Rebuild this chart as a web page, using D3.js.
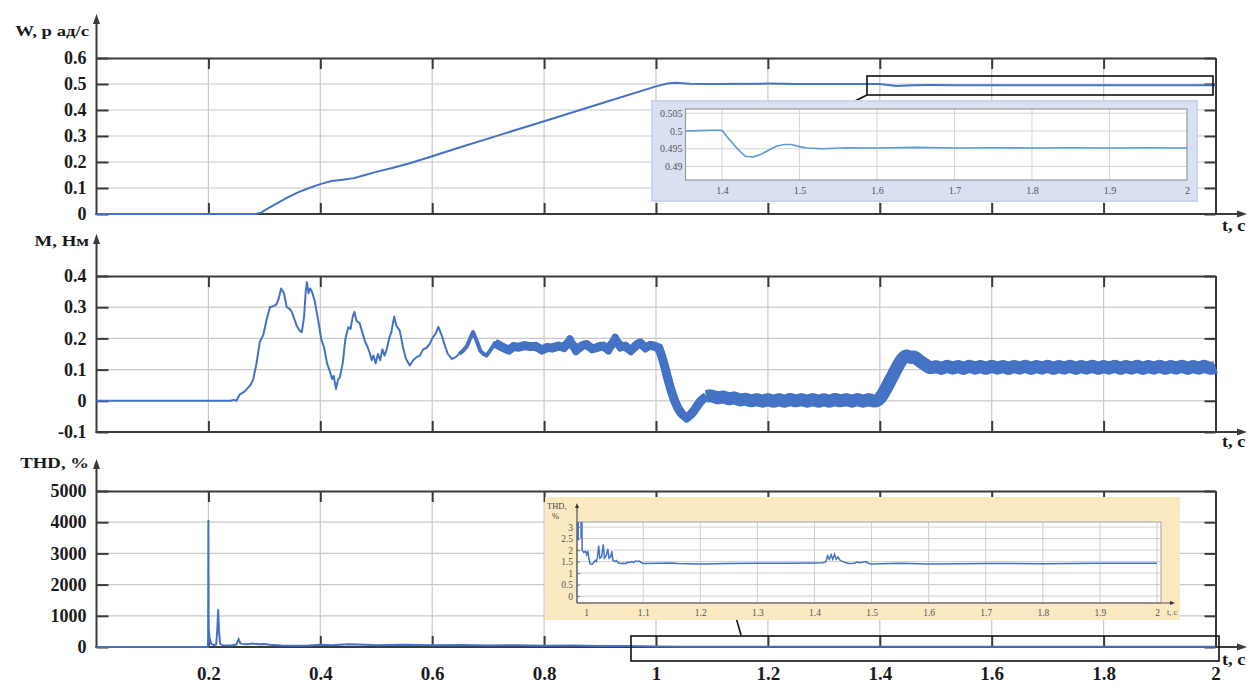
<!DOCTYPE html>
<html><head><meta charset="utf-8">
<script src="https://cdn.jsdelivr.net/npm/d3@7"></script>
<style>
html,body{margin:0;padding:0;background:#fff;}
svg{display:block;}
</style></head><body>
<svg id="c" width="1258" height="686"></svg>
<script>
// ---------------- DATA ----------------
const xTicks = [0.2,0.4,0.6,0.8,1,1.2,1.4,1.6,1.8,2];
const xTickLabels = ["0.2","0.4","0.6","0.8","1","1.2","1.4","1.6","1.8","2"];

const wTicks = [0,0.1,0.2,0.3,0.4,0.5,0.6];
const wTickLabels = ["0","0.1","0.2","0.3","0.4","0.5","0.6"];
const mTicks = [-0.1,0,0.1,0.2,0.3,0.4];
const mTickLabels = ["-0.1","0","0.1","0.2","0.3","0.4"];
const thdTicks = [0,1000,2000,3000,4000,5000];
const thdTickLabels = ["0","1000","2000","3000","4000","5000"];

// speed W, rad/s  [t, value]
const speed = [[0,0],[0.285,0],[0.295,0.006],[0.305,0.02],[0.32,0.038],[0.34,0.062],[0.36,0.083],[0.38,0.1],
 [0.40,0.115],[0.42,0.127],[0.44,0.132],[0.46,0.138],[0.48,0.15],[0.50,0.162],[0.53,0.178],[0.56,0.195],
 [0.60,0.222],[0.65,0.257],[0.70,0.29],[0.80,0.357],[0.90,0.424],[1.00,0.491],[1.02,0.502],[1.035,0.505],
 [1.06,0.501],[1.1,0.5],[1.2,0.5015],[1.25,0.5],[1.4,0.5],[1.43,0.4925],[1.46,0.4955],[1.49,0.496],[1.53,0.4952],[2,0.4952]];

// speed zoom inset
const speedZoomXTicks = [1.4,1.5,1.6,1.7,1.8,1.9,2];
const speedZoomXLabels = ["1.4","1.5","1.6","1.7","1.8","1.9","2"];
const speedZoomYTicks = [0.49,0.495,0.5,0.505];
const speedZoomYLabels = ["0.49","0.495","0.5","0.505"];
const speedZoom = [[1.353,0.5],[1.37,0.5001],[1.385,0.5002],[1.4,0.5002],[1.41,0.4975],[1.42,0.495],[1.43,0.4929],
 [1.44,0.4927],[1.45,0.4934],[1.46,0.4946],[1.47,0.4957],[1.48,0.4962],[1.49,0.4962],[1.5,0.4956],[1.51,0.4952],
 [1.53,0.495],[1.56,0.4953],[1.6,0.4952],[1.65,0.4954],[1.7,0.4952],[1.75,0.4953],[1.8,0.4952],[1.85,0.4953],
 [1.9,0.4952],[1.95,0.4953],[2.0,0.4952]];

// torque M, N*m
const torqueStart = [[0,0],[0.24,0],[0.245,0.003],[0.25,0],[0.256,0.02],[0.265,0.03],[0.275,0.05],[0.28,0.068],
 [0.286,0.12],[0.292,0.19],[0.298,0.21],[0.304,0.26],[0.31,0.3],[0.318,0.305],[0.322,0.31],[0.326,0.33],[0.33,0.36],
 [0.335,0.345],[0.34,0.3],[0.345,0.295],[0.349,0.285],[0.354,0.26],[0.358,0.24],[0.363,0.225],[0.367,0.22],
 [0.371,0.27],[0.374,0.35],[0.376,0.38],[0.379,0.345],[0.382,0.36],[0.385,0.35],[0.39,0.32],[0.396,0.26],
 [0.402,0.195],[0.407,0.17],[0.412,0.12],[0.417,0.095],[0.421,0.07],[0.424,0.08],[0.428,0.038],[0.432,0.07],
 [0.435,0.075],[0.44,0.12],[0.445,0.2],[0.45,0.236],[0.454,0.23],[0.458,0.27],[0.461,0.285],[0.465,0.255],
 [0.47,0.25],[0.475,0.22],[0.48,0.19],[0.485,0.17],[0.489,0.15],[0.492,0.13],[0.495,0.145],[0.499,0.12],
 [0.503,0.15],[0.507,0.13],[0.511,0.165],[0.515,0.145],[0.519,0.167],[0.523,0.2],[0.527,0.22],[0.532,0.27],
 [0.536,0.24],[0.542,0.225],[0.548,0.17],[0.553,0.135],[0.56,0.113],[0.566,0.13],[0.572,0.14],[0.578,0.145],
 [0.584,0.165],[0.59,0.17],[0.596,0.183],[0.6,0.2],[0.606,0.215],[0.611,0.237],[0.617,0.21],[0.622,0.18],
 [0.628,0.15],[0.635,0.134],[0.642,0.14],[0.648,0.15]];
const torqueMid = [[0.648,0.15],[0.655,0.16],[0.662,0.175],[0.668,0.2],[0.673,0.22],
 [0.68,0.19],[0.686,0.16],[0.692,0.15],[0.697,0.145],[0.705,0.165],[0.712,0.185],[0.72,0.177]];
const torqueBandA = [[0.712,0.185],[0.72,0.177],[0.728,0.17],[0.737,0.16],[0.745,0.176],
 [0.755,0.17],[0.765,0.179],[0.775,0.172],[0.785,0.177],[0.796,0.16],[0.805,0.173],[0.815,0.167],[0.826,0.178],
 [0.836,0.168],[0.846,0.198],[0.857,0.158],[0.866,0.176],[0.876,0.183],[0.886,0.164],[0.896,0.172],[0.906,0.178],
 [0.915,0.16],[0.927,0.203],[0.936,0.17],[0.945,0.178],[0.955,0.158],[0.964,0.178],[0.972,0.188],[0.981,0.167],
 [0.99,0.18],[0.998,0.174],[1.006,0.172],[1.016,0.108],[1.025,0.043],[1.034,-0.005],[1.043,-0.038],[1.055,-0.058],
 [1.067,-0.036],[1.079,0.0],[1.09,0.014]];
const torqueBandB = [[1.09,0.014],[1.10,0.018],[1.11,0.006],[1.12,0.016],[1.13,0.003],[1.14,0.013],[1.15,-0.001],
 [1.16,0.009],[1.17,-0.004],[1.18,0.007],[1.19,-0.005],[1.20,0.007],[1.21,-0.005],[1.22,0.007],[1.23,-0.005],
 [1.24,0.008],[1.25,-0.004],[1.26,0.007],[1.27,-0.005],[1.28,0.008],[1.29,-0.005],[1.30,0.007],[1.31,-0.005],
 [1.32,0.008],[1.33,-0.004],[1.34,0.007],[1.35,-0.005],[1.36,0.008],[1.37,-0.005],[1.38,0.007],[1.39,-0.004],
 [1.40,0.004],[1.41,0.035],[1.425,0.087],[1.44,0.138],[1.448,0.147],[1.455,0.136],[1.462,0.144],[1.47,0.128],
 [1.48,0.118],[1.49,0.102],[1.50,0.113],[1.51,0.1],[1.52,0.115],[1.53,0.101],[1.54,0.114],[1.55,0.1],
 [1.56,0.115],[1.57,0.101],[1.58,0.114],[1.59,0.1],[1.60,0.115],[1.61,0.101],[1.62,0.114],[1.63,0.1],
 [1.64,0.114],[1.65,0.101],[1.66,0.115],[1.67,0.1],[1.68,0.114],[1.69,0.101],[1.70,0.115],[1.71,0.1],
 [1.72,0.114],[1.73,0.101],[1.74,0.115],[1.75,0.1],[1.76,0.114],[1.77,0.101],[1.78,0.115],[1.79,0.1],
 [1.80,0.114],[1.81,0.101],[1.82,0.115],[1.83,0.1],[1.84,0.114],[1.85,0.101],[1.86,0.115],[1.87,0.1],
 [1.88,0.114],[1.89,0.101],[1.90,0.115],[1.91,0.1],[1.92,0.114],[1.93,0.101],[1.94,0.115],[1.95,0.1],
 [1.96,0.114],[1.97,0.101],[1.98,0.115],[1.99,0.101],[2.0,0.108]];

// THD, %
const thd = [[0,0],[0.199,0],[0.1995,350],[0.2,4070],[0.2005,600],[0.202,300],[0.205,100],[0.21,60],[0.214,80],
 [0.216,600],[0.2175,1210],[0.219,500],[0.221,100],[0.225,60],[0.24,50],[0.25,80],[0.254,245],[0.257,120],
 [0.26,100],[0.27,90],[0.28,110],[0.29,90],[0.30,95],[0.31,70],[0.33,45],[0.36,40],[0.38,50],[0.40,70],
 [0.42,60],[0.45,85],[0.48,75],[0.50,60],[0.55,70],[0.6,55],[0.65,65],[0.7,50],[0.75,55],[0.8,40],[0.85,45],
 [0.9,35],[0.95,30],[1.0,20],[1.05,5],[2.0,5]];

// THD zoom inset
const thdZoomXTicks = [1,1.1,1.2,1.3,1.4,1.5,1.6,1.7,1.8,1.9,2];
const thdZoomXLabels = ["1","1.1","1.2","1.3","1.4","1.5","1.6","1.7","1.8","1.9","2"];
const thdZoomYTicks = [0,0.5,1,1.5,2,2.5,3];
const thdZoomYLabels = ["0","0.5","1","1.5","2","2.5","3"];
const thdZoom = [[0.984,3.4],[0.9853,3.4],[0.9855,2.45],[0.986,2.45],[0.9862,3.4],[0.991,3.4],[0.9912,2.5],
 [0.9915,3.4],[0.9925,3.4],[0.993,2.0],[0.996,1.9],[0.999,1.95],[1.001,1.8],[1.003,1.95],[1.005,1.6],[1.007,1.4],
 [1.01,1.38],[1.013,1.45],[1.016,1.55],[1.018,1.5],[1.02,1.7],[1.022,2.2],[1.024,1.65],[1.027,1.7],[1.03,2.25],
 [1.032,1.65],[1.035,1.75],[1.038,2.05],[1.04,1.65],[1.043,1.7],[1.045,1.95],[1.047,1.55],[1.05,1.5],[1.053,1.55],
 [1.056,1.45],[1.06,1.42],[1.065,1.43],[1.07,1.42],[1.072,1.48],[1.075,1.45],[1.08,1.5],[1.083,1.46],[1.086,1.52],
 [1.09,1.5],[1.093,1.52],[1.097,1.45],[1.1,1.42],[1.15,1.44],[1.16,1.42],[1.2,1.4],[1.25,1.42],[1.3,1.43],
 [1.35,1.43],[1.4,1.44],[1.415,1.45],[1.42,1.5],[1.423,1.75],[1.426,1.6],[1.429,1.8],[1.432,1.6],[1.435,1.82],
 [1.438,1.6],[1.441,1.7],[1.445,1.55],[1.45,1.5],[1.455,1.45],[1.46,1.42],[1.47,1.43],[1.475,1.48],[1.48,1.45],
 [1.49,1.5],[1.495,1.42],[1.5,1.4],[1.55,1.43],[1.6,1.4],[1.7,1.42],[1.8,1.41],[1.9,1.43],[2.0,1.43]];

// ---------------- DRAWING ----------------
const svg = d3.select("#c");
const FONT = "'Liberation Serif','Times New Roman',serif";
const BLUE = "#4472c4";
const DARK = "#3a3a3a";
const GRID = "#c9c9c9";
const X0 = 96.5, X1 = 1215.5, XARROW = 1247;
const x = d3.scaleLinear([0, 2], [X0, X1]);

function arrowUp(g, cx, tip) {
  g.append("path").attr("d", `M${cx},${tip} L${cx-3.5},${tip+10} L${cx+3.5},${tip+10} Z`).attr("fill", DARK);
}
function arrowRight(g, tip, cy) {
  g.append("path").attr("d", `M${tip},${cy} L${tip-10},${cy-3.5} L${tip-10},${cy+3.5} Z`).attr("fill", DARK);
}
function styleText(sel, size) {
  sel.selectAll("text").attr("font-family", FONT).attr("font-weight", "bold")
     .attr("font-size", size).attr("fill", "#1a1a1a");
}

function mainPanel(o) {
  const y = d3.scaleLinear(o.domain, [o.bottom, o.top]);
  const g = svg.append("g");
  g.selectAll("line.vg").data(xTicks.slice(0, -1)).join("line").attr("class", "vg")
    .attr("x1", d => x(d)).attr("x2", d => x(d)).attr("y1", o.top).attr("y2", o.bottom)
    .attr("stroke", GRID).attr("stroke-width", 1.2);
  g.selectAll("line.hg").data(o.ticks.slice(1, -1)).join("line").attr("class", "hg")
    .attr("x1", X0).attr("x2", X1).attr("y1", d => y(d)).attr("y2", d => y(d))
    .attr("stroke", GRID).attr("stroke-width", 1.2);

  const top = g.append("g").attr("transform", `translate(0,${o.top})`)
    .call(d3.axisTop(x).tickValues(xTicks).tickSize(-11).tickSizeOuter(0).tickFormat(""));
  const right = g.append("g").attr("transform", `translate(${X1},0)`)
    .call(d3.axisRight(y).tickValues(o.ticks).tickSize(-11).tickSizeOuter(0).tickFormat(""));
  const bottom = g.append("g").attr("transform", `translate(0,${o.bottom})`)
    .call(d3.axisBottom(x).tickValues(xTicks).tickSize(-11).tickSizeOuter(0).tickPadding(20)
      .tickFormat((d, i) => o.showX ? xTickLabels[i] : ""));
  bottom.select(".domain").remove();
  styleText(bottom, 19);
  const left = g.append("g").attr("transform", `translate(${X0},0)`)
    .call(d3.axisLeft(y).tickValues(o.ticks).tickSize(-12).tickSizeOuter(0).tickPadding(10)
      .tickFormat((d, i) => o.labels[i]));
  left.select(".domain").remove();
  styleText(left, 18);
  [top, right, bottom, left].forEach(a => {
    a.selectAll(".tick line").attr("stroke", DARK).attr("stroke-width", 2);
    a.select(".domain").attr("stroke", DARK).attr("stroke-width", 2);
  });
  g.append("line").attr("x1", X0).attr("x2", X0).attr("y1", o.bottom + 1).attr("y2", o.tip + 4)
    .attr("stroke", DARK).attr("stroke-width", 2);
  arrowUp(g, X0, o.tip);
  g.append("line").attr("x1", X0 - 1).attr("x2", XARROW - 4).attr("y1", o.bottom).attr("y2", o.bottom)
    .attr("stroke", DARK).attr("stroke-width", 2);
  arrowRight(g, XARROW, o.bottom);
  g.append("text").attr("transform", `translate(89,${o.titleY}) scale(1.25,1)`)
    .attr("text-anchor", "end").attr("font-family", FONT).attr("font-weight", "bold")
    .attr("font-size", 15).attr("fill", "#1a1a1a").text(o.title);
  g.append("text").attr("transform", `translate(1222,${o.tY}) scale(1.15,1)`)
    .attr("font-family", FONT).attr("font-weight", "bold").attr("font-size", 16)
    .attr("fill", "#1a1a1a").text("t, с");
  return { g, y };
}

const line = (xs, ys) => d3.line().x(d => xs(d[0])).y(d => ys(d[1]));

// ---- Panel 1: speed
const p1 = mainPanel({ top: 58, bottom: 214, domain: [0, 0.6], ticks: wTicks, labels: wTickLabels,
  tip: 14, title: "W, р ад/с", titleY: 36, tY: 231, showX: false });
p1.g.append("path").datum(speed).attr("d", line(x, p1.y)).attr("fill", "none")
  .attr("stroke", BLUE).attr("stroke-width", 2);

// ---- Panel 2: torque
const p2 = mainPanel({ top: 276, bottom: 432, domain: [-0.1, 0.4], ticks: mTicks, labels: mTickLabels,
  tip: 234, title: "M, Нм", titleY: 246, tY: 447, showX: false });
function torquePath(data, w, curve) {
  const gen = line(x, p2.y).curve(curve || d3.curveLinear);
  p2.g.append("path").datum(data).attr("d", gen).attr("fill", "none")
    .attr("stroke", BLUE).attr("stroke-width", w).attr("stroke-linejoin", "round").attr("stroke-linecap", "butt");
}
torquePath(torqueStart, 2);
torquePath(torqueMid, 4);
torquePath(torqueBandA, 9, d3.curveBasis);
torquePath(torqueBandA, 7.5);
torquePath(torqueBandB, 13, d3.curveBasis);
torquePath(torqueBandB, 10);

// ---- Panel 3: THD
const p3 = mainPanel({ top: 491, bottom: 647, domain: [0, 5000], ticks: thdTicks, labels: thdTickLabels,
  tip: 459, title: "THD, %", titleY: 468, tY: 665, showX: true });
p3.g.append("path").datum(thd).attr("d", line(x, p3.y)).attr("fill", "none")
  .attr("stroke", BLUE).attr("stroke-width", 2);

// ---- zoom rectangles + connectors
svg.append("rect").attr("x", 867).attr("y", 76).attr("width", 346).attr("height", 19)
  .attr("fill", "none").attr("stroke", "#111").attr("stroke-width", 1.6);
svg.append("path").attr("d", "M867,95 L853,102").attr("stroke", "#111").attr("stroke-width", 1.6).attr("fill", "none");
svg.append("rect").attr("x", 631).attr("y", 636).attr("width", 588).attr("height", 25)
  .attr("fill", "none").attr("stroke", "#111").attr("stroke-width", 1.6);
svg.append("path").attr("d", "M735,614 L741,635").attr("stroke", "#111").attr("stroke-width", 1.6).attr("fill", "none");

// ---- Inset 1 (speed zoom)
(function () {
  const g = svg.append("g");
  g.append("rect").attr("x", 652).attr("y", 101).attr("width", 545).attr("height", 100)
    .attr("fill", "#d9e0f2").attr("stroke", "#cdd5ec").attr("stroke-width", 2);
  const L = 685.5, R = 1187, T = 109, B = 180;
  const xi = d3.scaleLinear([1.353, 2.0], [L, R]);
  const yi = d3.scaleLinear([0.4862, 0.5062], [B, T]);
  g.append("rect").attr("x", L).attr("y", T).attr("width", R - L).attr("height", B - T).attr("fill", "#fff");
  g.selectAll("line.v").data(speedZoomXTicks.slice(0, -1)).join("line").attr("class", "v")
    .attr("x1", d => xi(d)).attr("x2", d => xi(d)).attr("y1", T).attr("y2", B).attr("stroke", "#d6d6d6");
  g.selectAll("line.h").data(speedZoomYTicks).join("line").attr("class", "h")
    .attr("x1", L).attr("x2", R).attr("y1", d => yi(d)).attr("y2", d => yi(d)).attr("stroke", "#d6d6d6");
  g.append("rect").attr("x", L).attr("y", T).attr("width", R - L).attr("height", B - T)
    .attr("fill", "none").attr("stroke", "#9a9a9a").attr("stroke-width", 1.2);
  const ax = g.append("g").attr("transform", `translate(0,${B})`)
    .call(d3.axisBottom(xi).tickValues(speedZoomXTicks).tickSize(0).tickPadding(7).tickFormat((d, i) => speedZoomXLabels[i]));
  const ay = g.append("g").attr("transform", `translate(${L},0)`)
    .call(d3.axisLeft(yi).tickValues(speedZoomYTicks).tickSize(0).tickPadding(3).tickFormat((d, i) => speedZoomYLabels[i]));
  [ax, ay].forEach(a => {
    a.select(".domain").remove();
    a.selectAll("text").attr("font-family", FONT).attr("font-size", 10).attr("fill", "#555");
  });
  g.append("path").datum(speedZoom).attr("d", line(xi, yi)).attr("fill", "none")
    .attr("stroke", "#5b9bd5").attr("stroke-width", 1.6);
})();

// ---- Inset 2 (THD zoom)
(function () {
  const g = svg.append("g");
  g.append("rect").attr("x", 545).attr("y", 497).attr("width", 635).attr("height", 123)
    .attr("fill", "#fbe9c2");
  const L = 577, R = 1161, T = 522, B = 603;
  const xi = d3.scaleLinear([0.984, 2.007], [L, R]);
  const yi = d3.scaleLinear([-0.3, 3.22], [B, T]);
  g.append("rect").attr("x", L).attr("y", T).attr("width", R - L).attr("height", B - T).attr("fill", "#fff");
  g.selectAll("line.v").data(thdZoomXTicks.slice(1)).join("line").attr("class", "v")
    .attr("x1", d => xi(d)).attr("x2", d => xi(d)).attr("y1", T).attr("y2", B).attr("stroke", "#cfcfcf");
  g.selectAll("line.h").data(thdZoomYTicks).join("line").attr("class", "h")
    .attr("x1", L).attr("x2", R).attr("y1", d => yi(d)).attr("y2", d => yi(d)).attr("stroke", "#cfcfcf");
  g.append("rect").attr("x", L).attr("y", T).attr("width", R - L).attr("height", B - T)
    .attr("fill", "none").attr("stroke", "#a0a0a0").attr("stroke-width", 1);
  const ax = g.append("g").attr("transform", `translate(0,${B})`)
    .call(d3.axisBottom(xi).tickValues(thdZoomXTicks).tickSize(0).tickPadding(6).tickFormat((d, i) => thdZoomXLabels[i]));
  const ay = g.append("g").attr("transform", `translate(${L},0)`)
    .call(d3.axisLeft(yi).tickValues(thdZoomYTicks).tickSize(-3).tickPadding(4).tickFormat((d, i) => thdZoomYLabels[i]));
  [ax, ay].forEach(a => {
    a.select(".domain").remove();
    a.selectAll(".tick line").attr("stroke", "#777");
    a.selectAll("text").attr("font-family", FONT).attr("font-size", 9.5).attr("fill", "#555");
  });
  g.append("line").attr("x1", L).attr("x2", L).attr("y1", B).attr("y2", 506).attr("stroke", "#555").attr("stroke-width", 1.2);
  g.append("path").attr("d", `M${L},503 L${L-2},508 L${L+2},508 Z`).attr("fill", "#333");
  g.append("line").attr("x1", L).attr("x2", 1172).attr("y1", B).attr("y2", B).attr("stroke", "#555").attr("stroke-width", 1.2);
  g.append("path").attr("d", `M1175,${B} L1170,${B-2} L1170,${B+2} Z`).attr("fill", "#333");
  g.append("text").attr("x", 547).attr("y", 509).attr("font-family", FONT).attr("font-size", 8.5).attr("fill", "#444").text("THD,");
  g.append("text").attr("x", 552).attr("y", 519).attr("font-family", FONT).attr("font-size", 8.5).attr("fill", "#444").text("%");
  g.append("text").attr("x", 1167).attr("y", 615).attr("font-family", FONT).attr("font-size", 8.5).attr("fill", "#555").text("t, c");
  g.append("clipPath").attr("id", "clip2").append("rect").attr("x", L).attr("y", T).attr("width", R - L).attr("height", B - T);
  g.append("path").datum(thdZoom).attr("d", line(xi, yi)).attr("fill", "none").attr("clip-path", "url(#clip2)")
    .attr("stroke", BLUE).attr("stroke-width", 1.5);
})();
</script>
</body></html>
